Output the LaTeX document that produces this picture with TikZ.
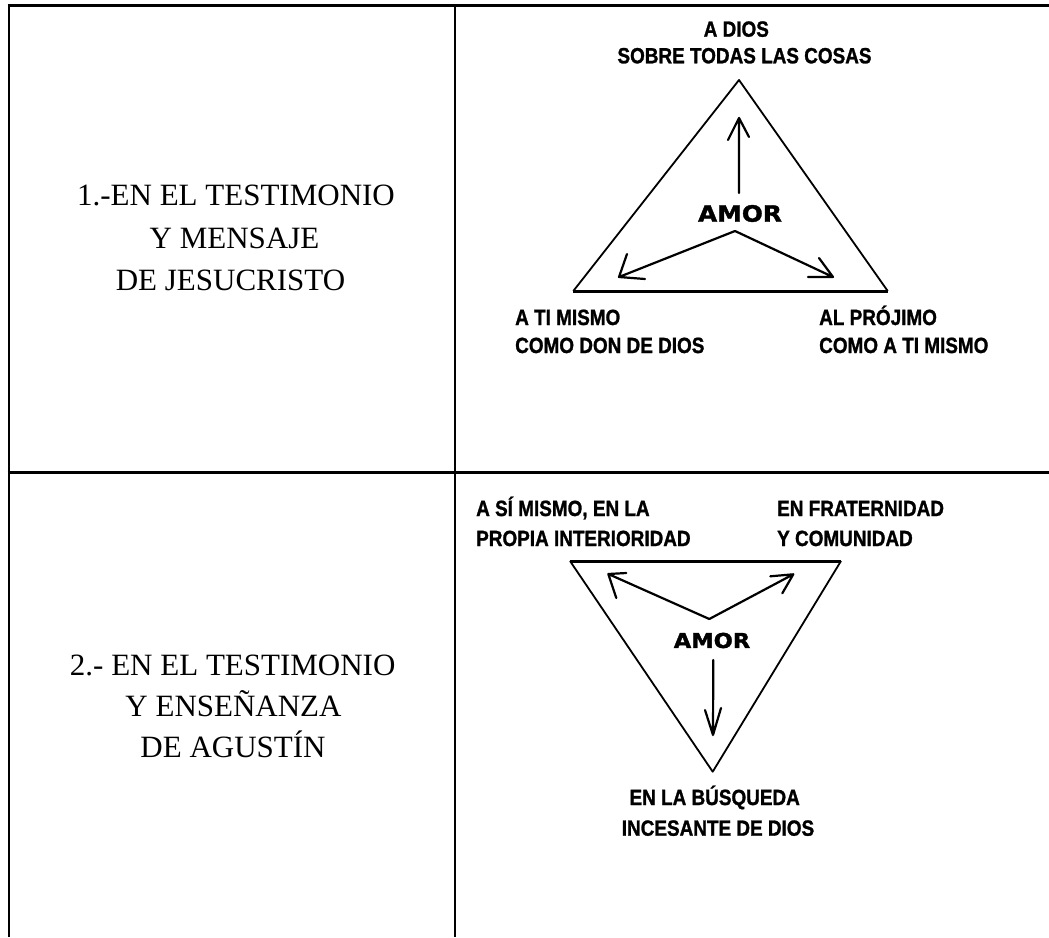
\documentclass[tikz,border=0pt]{standalone}
\usepackage{fontspec}
\setmainfont{Liberation Serif}
\newfontfamily\labfont{Liberation Sans}[FakeStretch=0.86,FakeBold=1.2]
\newfontfamily\amorfont{DejaVu Sans}[FakeStretch=1.1,FakeBold=1.5]
\begin{document}
\begin{tikzpicture}[x=1pt,y=-1pt,
  frame/.style={line width=2.3pt},
  tri/.style={line width=1.8pt, line join=round},
  triedge/.style={line width=3pt},
  arr/.style={line width=2.2pt, line cap=round, line join=round},
  serif/.style={font=\fontsize{31}{31}\selectfont, inner sep=0pt, anchor=base},
  lab/.style={font=\labfont\bfseries\fontsize{22}{22}\selectfont, inner sep=0pt},
  amorA/.style={font=\amorfont\bfseries\fontsize{22.5}{22.5}\selectfont, inner sep=0pt},
  amorB/.style={font=\amorfont\bfseries\fontsize{20.5}{20.5}\selectfont, inner sep=0pt}]
\useasboundingbox (0,0) rectangle (1049,937);
% table frame
\draw[frame] (7.5,5.5) -- (1049,5.5);
\draw[frame] (8.7,4.4) -- (8.7,937);
\draw[frame] (454.8,4.4) -- (454.8,937);
\draw[frame] (7.5,472.5) -- (1049,472.5);
% left column texts
\node[serif] (t1a) at (236,205) {1.-EN EL TESTIMONIO};
\node[serif] (t1b) at (234.5,248) {Y MENSAJE};
\node[serif] (t1c) at (230.5,290) {DE JESUCRISTO};
\node[serif] (t2a) at (232.7,675) {2.- EN EL TESTIMONIO};
\node[serif] (t2b) at (233.5,716) {Y ENSEÑANZA};
\node[serif] (t2c) at (233,757) {DE AGUSTÍN};
% triangle 1
\coordinate (A1) at (739,80);
\coordinate (B1) at (573.3,291);
\coordinate (C1) at (887.7,291);
\draw[tri] (B1) -- (A1) -- (C1);
\draw[triedge] (B1) -- (C1);
\node[amorA] (amor1) at (740,213.5) {AMOR};
\coordinate (u1s) at (739,193);
\coordinate (u1t) at (739,118);
\coordinate (m1) at (735,231);
\coordinate (l1t) at (619,277);
\coordinate (r1t) at (833,277);
\draw[arr] (u1s) -- (u1t) -- ++(-11,22) (u1t) -- ++(10,19);
\draw[arr] (m1) -- (l1t) -- ++(8,-23) (l1t) -- ++(26,2);
\draw[arr] (m1) -- (r1t) -- ++(-25,0) (r1t) -- ++(-14,-19);
\node[lab, anchor=base] (top1a) at (736.3,36.7) {A DIOS};
\node[lab, anchor=base] (top1b) at (744.5,63.3) {SOBRE TODAS LAS COSAS};
\node[lab, anchor=base west] (bl1a) at (515,325) {A TI MISMO};
\node[lab, anchor=base west] (bl1b) at (515,353) {COMO DON DE DIOS};
\node[lab, anchor=base west] (br1a) at (819,325) {AL PRÓJIMO};
\node[lab, anchor=base west] (br1b) at (819,353) {COMO A TI MISMO};
% triangle 2
\coordinate (A2) at (570,561);
\coordinate (B2) at (841,561);
\coordinate (C2) at (712.7,771.7);
\draw[tri] (A2) -- (C2) -- (B2);
\draw[triedge] (A2) -- (B2);
\node[amorB] (amor2) at (712,640.5) {AMOR};
\coordinate (m2) at (709.3,619);
\coordinate (l2t) at (608.3,574);
\coordinate (r2t) at (793.3,574.3);
\coordinate (d2s) at (713.3,660);
\coordinate (d2t) at (713,735);
\draw[arr] (m2) -- (l2t) -- ++(18,-1) (l2t) -- ++(8,24);
\draw[arr] (m2) -- (r2t) -- ++(-23,2) (r2t) -- ++(-11,19);
\draw[arr] (d2s) -- (d2t) -- ++(-8,-25) (d2t) -- ++(8,-27);
\node[lab, anchor=base west] (tl2a) at (476,516) {A SÍ MISMO, EN LA};
\node[lab, anchor=base west] (tl2b) at (476,546) {PROPIA INTERIORIDAD};
\node[lab, anchor=base west] (tr2a) at (777,516) {EN FRATERNIDAD};
\node[lab, anchor=base west] (tr2b) at (777,546) {Y COMUNIDAD};
\node[lab, anchor=base] (bt2a) at (714.7,805) {EN LA BÚSQUEDA};
\node[lab, anchor=base] (bt2b) at (718,835.7) {INCESANTE DE DIOS};
\end{tikzpicture}
\end{document}
